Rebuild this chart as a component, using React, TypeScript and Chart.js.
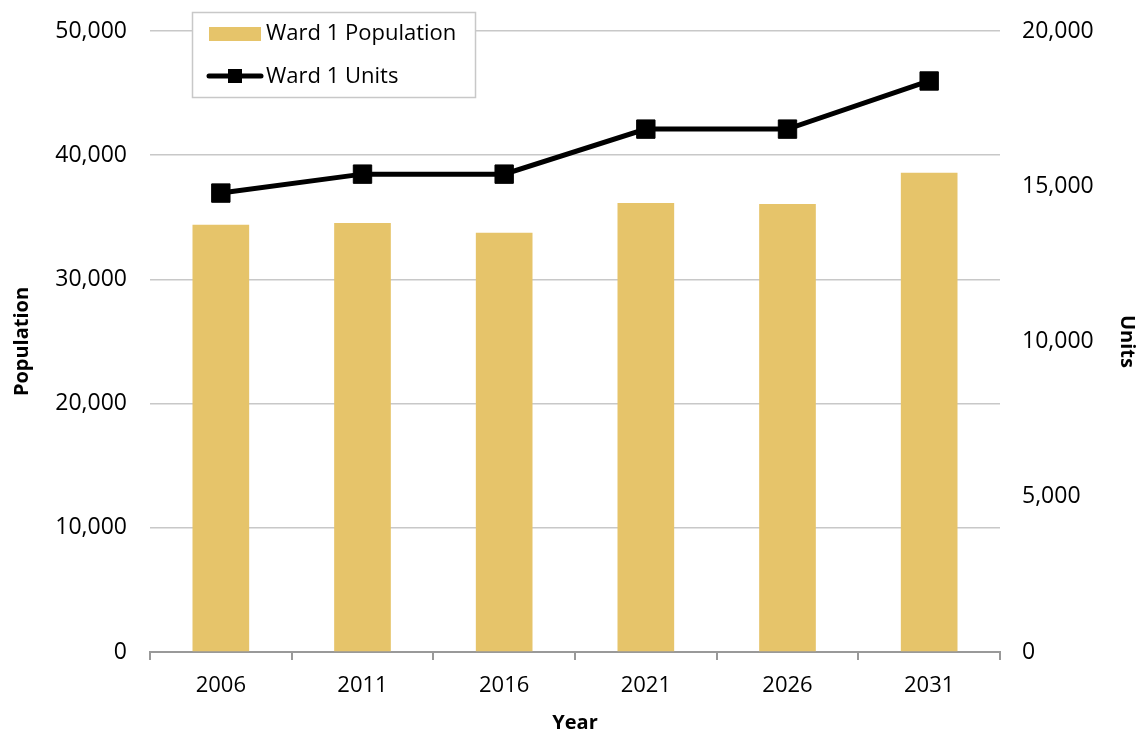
import React, { useEffect, useRef } from "react";
import { Chart, registerables } from "chart.js";

Chart.register(...registerables);

const years = ["2006", "2011", "2016", "2021", "2026", "2031"];
const population = [34400, 34550, 33750, 36150, 36080, 38580];
const units = [14780, 15390, 15390, 16840, 16840, 18390];
const populationLabel = "Ward 1 Population";
const unitsLabel = "Ward 1 Units";

const FONT = "'Open Sans', sans-serif";
const BAR_COLOR = "#E6C46A";

const legendPlugin = {
  id: "customLegend",
  afterDraw(chart: any) {
    const ctx = chart.ctx;
    ctx.save();
    const x0 = 192, y0 = 12, w = 283, h = 85;
    ctx.fillStyle = "#ffffff";
    ctx.fillRect(x0, y0, w, h);
    ctx.strokeStyle = "#c8c8c8";
    ctx.lineWidth = 1.5;
    ctx.strokeRect(x0 + 0.5, y0 + 0.5, w, h);
    ctx.fillStyle = BAR_COLOR;
    ctx.fillRect(209, 27, 52, 14);
    ctx.strokeStyle = "#000";
    ctx.lineWidth = 5;
    ctx.lineCap = "round";
    ctx.beginPath();
    ctx.moveTo(209, 76);
    ctx.lineTo(261, 76);
    ctx.stroke();
    ctx.fillStyle = "#000";
    ctx.fillRect(228, 69, 14, 14);
    ctx.font = `22px ${FONT}`;
    ctx.textBaseline = "middle";
    ctx.textAlign = "left";
    ctx.fillText(populationLabel, 266, 34);
    ctx.fillText(unitsLabel, 266, 77);
    ctx.restore();
  },
};

const zeroVPad = (scale: any, width: number) => {
  scale.width = width;
  scale.paddingTop = 0;
  scale.paddingBottom = 0;
};

export default function App() {
  const ref = useRef<HTMLCanvasElement>(null);
  useEffect(() => {
    document.body.style.margin = "0";
    const chart = new Chart(ref.current!, {
      type: "bar",
      data: {
        labels: years,
        datasets: [
          {
            type: "line",
            label: unitsLabel,
            data: units,
            yAxisID: "y1",
            borderColor: "#000",
            backgroundColor: "#000",
            borderWidth: 5,
            pointStyle: "rect",
            pointRadius: 13,
            pointBorderWidth: 1,
            tension: 0,
            order: 0,
          } as any,
          {
            type: "bar",
            label: populationLabel,
            data: population,
            yAxisID: "y",
            backgroundColor: BAR_COLOR,
            categoryPercentage: 1,
            barPercentage: 0.4,
            order: 1,
          },
        ],
      },
      options: {
        responsive: false,
        animation: false,
        layout: { padding: { top: 31, left: 0, right: 0, bottom: 0 } },
        plugins: { legend: { display: false }, tooltip: { enabled: false } },
        scales: {
          x: {
            offset: true,
            grid: {
              offset: true,
              drawOnChartArea: false,
              drawTicks: true,
              tickLength: 8,
              color: "#999",
              lineWidth: 2,
            },
            border: { display: true, color: "#999", width: 2 },
            ticks: { color: "#000", font: { family: FONT, size: 22 }, padding: 13 },
            title: {
              display: true,
              text: "Year",
              color: "#000",
              font: { family: FONT, size: 20, weight: "bold" },
              padding: { top: 0, bottom: 0 },
            },
            afterFit(scale: any) {
              scale.height = 83;
              scale.paddingLeft = 0;
              scale.paddingRight = 0;
            },
          },
          y: {
            position: "left",
            min: 0,
            max: 50000,
            ticks: {
              stepSize: 10000,
              color: "#000",
              font: { family: FONT, size: 23 },
              padding: 23,
              callback: (v: any) => Number(v).toLocaleString("en-US"),
            },
            grid: { color: "#c8c8c8", lineWidth: 1.5, drawTicks: false },
            border: { display: false },
            title: {
              display: true,
              text: "Population",
              color: "#000",
              font: { family: FONT, size: 20, weight: "bold" },
              padding: { top: 10, bottom: 0 },
            },
            afterFit(scale: any) {
              zeroVPad(scale, 150);
            },
          },
          y1: {
            position: "right",
            min: 0,
            max: 20000,
            ticks: {
              stepSize: 5000,
              color: "#000",
              font: { family: FONT, size: 23 },
              padding: 22,
              callback: (v: any) => Number(v).toLocaleString("en-US"),
            },
            grid: { display: false, drawTicks: false },
            border: { display: false },
            title: {
              display: true,
              text: "Units",
              color: "#000",
              font: { family: FONT, size: 20, weight: "bold" },
              padding: { top: 2, bottom: 0 },
            },
            afterFit(scale: any) {
              zeroVPad(scale, 141);
            },
          },
        },
      },
      plugins: [legendPlugin],
    });
    return () => chart.destroy();
  }, []);
  return <canvas ref={ref} width={1141} height={735} style={{ display: "block" }} />;
}
